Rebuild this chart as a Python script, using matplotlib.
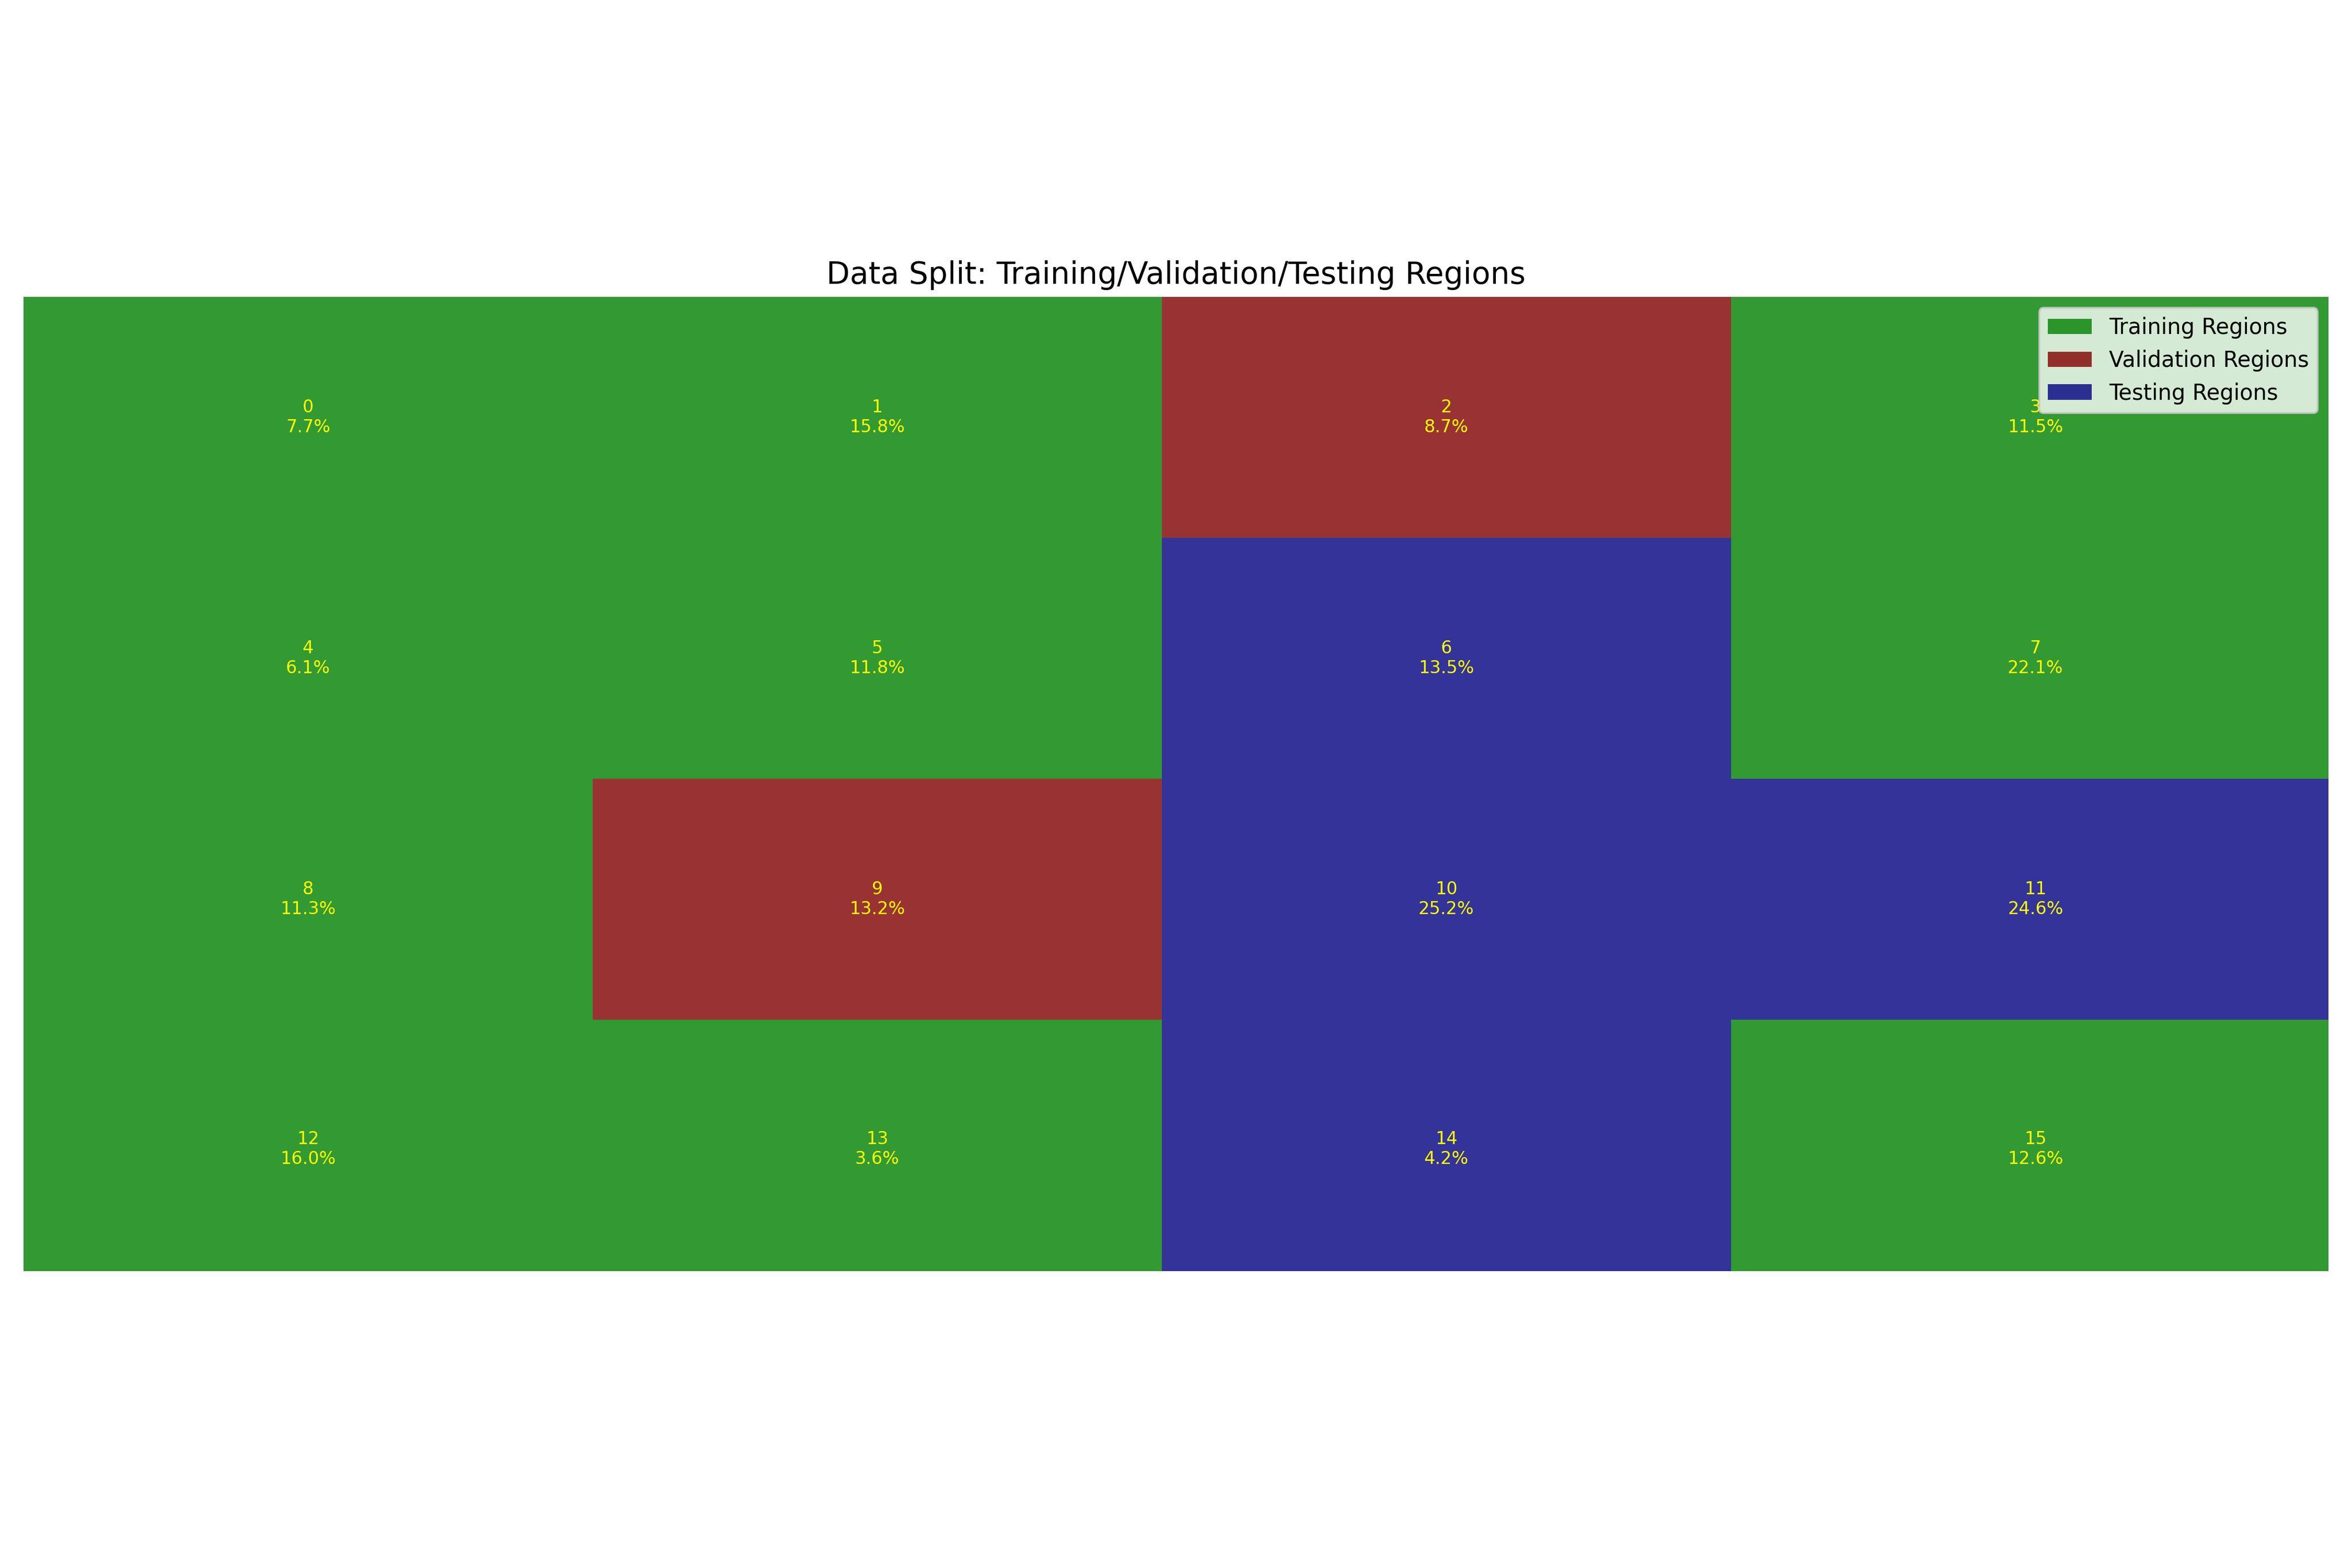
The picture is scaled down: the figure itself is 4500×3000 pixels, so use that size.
import numpy as np
import matplotlib
matplotlib.use("Agg")
import matplotlib.pyplot as plt
from matplotlib.colors import ListedColormap
from matplotlib.patches import Patch

# region grid (rows top to bottom), 0 = training, 1 = validation, 2 = testing
split = [[0, 0, 1, 0],
         [0, 0, 2, 0],
         [0, 1, 2, 2],
         [0, 0, 2, 0]]
# share of each region, region id = row*4 + col
pct = [7.7, 15.8, 8.7, 11.5,
       6.1, 11.8, 13.5, 22.1,
       11.3, 13.2, 25.2, 24.6,
       16.0, 3.6, 4.2, 12.6]
# region bounds in grid cells; the last column / row reach a bit past the map extent
x_edges = [0, 20, 40, 60, 81.4]
y_edges = [0, 23, 46, 69, 93.7]
x_extent = (0, 81)
y_extent = (0, 93)
names = ["Training Regions", "Validation Regions", "Testing Regions"]
colors = ["green", "maroon", "navy"]

fig, ax = plt.subplots(figsize=(15, 10))
cmap = ListedColormap(colors)
ax.pcolormesh(x_edges, y_edges, np.array(split), cmap=cmap, vmin=-0.5, vmax=2.5,
              alpha=0.8, edgecolors="none", antialiased=False)
ax.set_xlim(x_extent)
ax.set_ylim(y_extent[1], y_extent[0])
ax.set_aspect(0.368)

for r in range(4):
    for c in range(4):
        i = r * 4 + c
        xc = (x_edges[c] + x_edges[c + 1]) / 2
        yc = (y_edges[r] + y_edges[r + 1]) / 2
        ax.text(xc, yc, f"{i}\n{pct[i]:.1f}%", ha="center", va="center",
                color="yellow", fontsize=8)

handles = [Patch(facecolor=col, alpha=0.8, label=n) for col, n in zip(colors, names)]
ax.legend(handles=handles, loc="upper right")
ax.set_title("Data Split: Training/Validation/Testing Regions", fontsize=14)
ax.axis("off")
plt.tight_layout()
plt.savefig("out.png", dpi=300)
